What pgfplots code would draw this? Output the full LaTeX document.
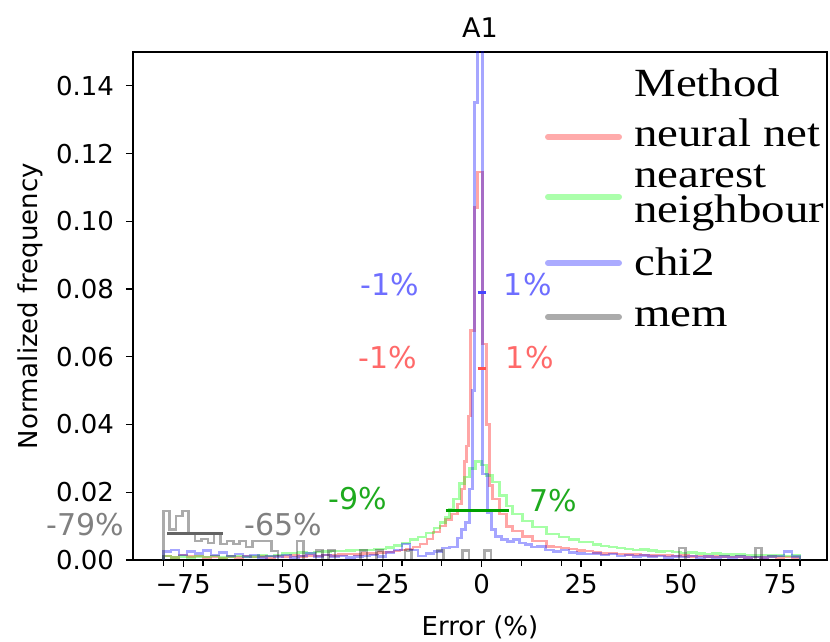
\documentclass[border=0pt]{standalone}
\usepackage{pgfplots}
\pgfplotsset{compat=1.18}
\usepackage{fontspec}
\setmainfont{DejaVu Sans}
\newfontfamily\legfont[FakeStretch=1.17]{Liberation Serif}
\definecolor{annblue}{RGB}{110,110,255}
\definecolor{annred}{RGB}{255,105,105}
\definecolor{anngreen}{RGB}{30,170,30}
\definecolor{anngray}{RGB}{128,128,128}
\definecolor{segblue}{RGB}{70,70,255}
\definecolor{segred}{RGB}{255,80,80}
\definecolor{seggreen}{RGB}{0,160,0}
\definecolor{seggray}{RGB}{100,100,100}
\begin{document}
\begin{tikzpicture}
\begin{axis}[
  scale only axis, width=347pt, height=254pt,
  xmin=-87.6, xmax=86.8, ymin=0, ymax=0.15,
  clip mode=individual,
  axis line style={line width=0.6pt},
  tick align=outside, xtick pos=bottom, ytick pos=left,
  major tick length=3.5pt, tick style={black, line width=0.6pt},
  xtick={-75,-50,-25,0,25,50,75},
  xticklabels={−75,−50,−25,0,25,50,75},
  extra x ticks={-80,-70,-60,-40,-30,-20,-10,10,20,30,40,60,70,80},
  extra x tick labels={},
  extra x tick style={major tick length=3pt},
  ytick={0,0.02,0.04,0.06,0.08,0.10,0.12,0.14},
  yticklabels={0.00,0.02,0.04,0.06,0.08,0.10,0.12,0.14},
  ticklabel style={font=\fontsize{13}{15}\selectfont},
  yticklabel style={xshift=-2.5pt},
  /pgf/number format/assume math mode=true,
  title={A1},
  title style={at={(axis description cs:0.5,1.025)}, anchor=center, font=\fontsize{13.5}{15}\selectfont},
  xlabel={Error (\%)},
  xlabel style={at={(axis description cs:0.5,-0.132)}, anchor=center, font=\fontsize{13}{15}\selectfont},
  ylabel={Normalized frequency},
  ylabel style={at={(axis description cs:-0.148,0.5)}, anchor=center, font=\fontsize{13}{15}\selectfont},
]
% neural net
\addplot[const plot, red, draw opacity=0.35, line width=1.3pt] coordinates {
(-80,0) (-80,0.0012) (-78,0.0008) (-76,0.0015) (-74,0.0010) (-72,0.0012) (-70,0.0008)
(-68,0.0010) (-66,0.0006) (-64,0.0010) (-62,0.0008) (-60,0.0012) (-58,0.0009) (-56,0.0011)
(-54,0.0008) (-52,0.0012) (-50,0.0010) (-48,0.0013) (-46,0.0011) (-44,0.0014) (-42,0.0012)
(-40,0.0015) (-38,0.0013) (-36,0.0016) (-34,0.0018) (-32,0.0017) (-30,0.0020) (-28,0.0019)
(-26,0.0022) (-24,0.0024) (-22,0.0026) (-20.5,0.0030) (-19,0.0033) (-17.25,0.0038)
(-15.5,0.0047) (-13.75,0.0062) (-12.25,0.0083) (-10.5,0.0100) (-9,0.0120) (-7.5,0.0136)
(-6,0.0165) (-5,0.0210) (-4.25,0.0290) (-3.75,0.0337) (-3.25,0.0425) (-2.75,0.0677)
(-1.75,0.1040) (-1,0.1146) (0.25,0.0638) (1.25,0.0400) (2,0.0220) (2.75,0.0180)
(4.5,0.0136) (6.25,0.0098) (7.75,0.0086) (10.25,0.0070) (12.75,0.0056) (16.25,0.0040)
(18,0.0038) (20,0.0035) (22,0.0032) (24,0.0028) (26,0.0026) (28,0.0022) (30,0.0020)
(32,0.0021) (34,0.0018) (36,0.0017) (38,0.0016) (40,0.0015) (42,0.0014) (44,0.0015)
(46,0.0013) (48,0.0012) (50,0.0013) (52,0.0011) (54,0.0012) (56,0.0010) (58,0.0011)
(60,0.0010) (62,0.0009) (64,0.0010) (66,0.0008) (68,0.0009) (70,0.0008) (72,0.0010)
(74,0.0007) (76,0.0009) (78,0.0008) (80,0)
};
% nearest neighbour
\addplot[const plot, green, draw opacity=0.35, line width=1.3pt] coordinates {
(-80,0) (-80,0.0012) (-78,0.0008) (-76,0.0010) (-74,0.0007) (-72,0.0011) (-70,0.0009)
(-68,0.0012) (-66,0.0008) (-64,0.0010) (-62,0.0012) (-60,0.0009) (-58,0.0011) (-56,0.0013)
(-54,0.0012) (-52,0.0015) (-50,0.0020) (-48,0.0021) (-46,0.0022) (-44,0.0021) (-42,0.0024)
(-40,0.0025) (-38,0.0026) (-36,0.0027) (-34,0.0028) (-32,0.0029) (-30,0.0030) (-27,0.0033)
(-24,0.0036) (-22,0.0042) (-20,0.0050) (-18,0.0060) (-16,0.0068) (-14,0.0080) (-12,0.0095)
(-10.5,0.0110) (-9,0.0125) (-8,0.0150) (-7,0.0180) (-5.5,0.0225) (-4.25,0.0245) (-3,0.0270)
(-1.5,0.0290) (0,0.0280) (1.25,0.0250) (2.75,0.0230) (4.5,0.0190) (6.25,0.0160) (7.75,0.0136)
(10.25,0.0115) (12.75,0.0097) (16.25,0.0077) (19.5,0.0068) (22,0.0060) (24.5,0.0053)
(28,0.0045) (30,0.0041) (32,0.0038) (34,0.0035) (36,0.0033) (38,0.0030) (40,0.0031)
(42,0.0028) (44,0.0025) (46,0.0026) (48,0.0023) (50,0.0021) (52,0.0022) (54,0.0020)
(56,0.0018) (58,0.0019) (60,0.0017) (62,0.0016) (64,0.0017) (66,0.0015) (68,0.0014)
(70,0.0015) (72,0.0013) (74,0.0014) (76,0.0012) (78,0.0013) (80,0)
};
% chi2
\addplot[const plot, blue, draw opacity=0.35, line width=1.3pt] coordinates {
(-80,0) (-80,0.0025) (-78,0.0030) (-76,0.0015) (-74,0.0025) (-72,0.0020) (-70,0.0028)
(-68,0.0015) (-66,0.0022) (-64,0.0012) (-62,0.0018) (-60,0.0010) (-58,0.0015) (-56,0.0008)
(-54,0.0012) (-52,0.0010) (-50,0.0015) (-48,0.0008) (-46,0.0012) (-44,0.0020) (-42,0.0010)
(-40,0.0015) (-38,0.0010) (-36,0.0012) (-34,0.0008) (-32,0.0010) (-30,0.0012) (-28,0.0015)
(-26,0.0010) (-24,0.0022) (-22,0.0030) (-20,0.0047) (-18,0.0030) (-16,0.0012) (-14,0.0020)
(-12,0.0025) (-10,0.0035) (-8,0.0038) (-6,0.0065) (-5,0.0090) (-4,0.0110) (-3,0.0210)
(-2.25,0.0500) (-1.75,0.1350) (-1,0.1600) (0.25,0.0254) (1.5,0.0140) (2.5,0.0090)
(3.5,0.0070) (5,0.0060) (6.5,0.0055) (8,0.0060) (9.5,0.0050) (11,0.0045) (12.5,0.0038)
(14,0.0040) (16,0.0030) (18,0.0025) (20,0.0030) (22,0.0022) (24,0.0020) (26,0.0018)
(28,0.0020) (30,0.0015) (32,0.0018) (34,0.0012) (36,0.0015) (38,0.0010) (40,0.0013)
(42,0.0010) (44,0.0012) (46,0.0008) (48,0.0011) (50,0.0009) (52,0.0012) (54,0.0008)
(56,0.0010) (58,0.0007) (60,0.0010) (62,0.0008) (64,0.0011) (66,0.0007) (68,0.0009)
(70,0.0008) (72,0.0010) (74,0.0012) (76,0.0025) (78,0.0010) (80,0)
};
% mem
\addplot[const plot, black, draw opacity=0.33, line width=1.3pt] coordinates {
(-80,0) (-80,0.0145) (-78.4,0.0090) (-76.8,0.0130) (-75.2,0.0145) (-73.6,0.0077)
(-72,0.0056) (-70.4,0.0062) (-68.8,0.0050) (-67.2,0.0077) (-65.6,0.0047) (-64,0.0056)
(-62.4,0.0047) (-60.8,0.0056) (-59.2,0.0038) (-57.6,0.0056) (-56,0.0056) (-54.4,0.0056)
(-52.8,0.0027) (-51.2,0) (-46.4,0.0056) (-44.8,0) (-41.6,0.0028) (-40,0) (-38.4,0.0028)
(-36.8,0) (-30.4,0.0028) (-28.8,0) (-26.4,0.0028) (-24.8,0) (-19.2,0.0028) (-17.6,0)
(-11.2,0.0028) (-9.6,0) (-4.8,0.0028) (-3.2,0) (0.8,0.0028) (2.4,0) (49.6,0.0035)
(51.2,0) (68.8,0.0035) (70.4,0) (80,0)
};
% percentile segments
\addplot[seggray, line width=1.4pt] coordinates {(-79,0.0078) (-65,0.0078)};
\addplot[seggreen, line width=1.4pt] coordinates {(-9,0.0145) (7,0.0145)};
\addplot[segred, line width=1.4pt] coordinates {(-1,0.0565) (1,0.0565)};
\addplot[segblue, line width=1.4pt] coordinates {(-1,0.079) (1,0.079)};
% annotations
\node[annblue, font=\fontsize{15}{17}\selectfont] at (axis cs:-23.0,0.0812) {-1\%};
\node[annblue, font=\fontsize{15}{17}\selectfont] at (axis cs:11.6,0.0812) {1\%};
\node[annred, font=\fontsize{15}{17}\selectfont] at (axis cs:-23.5,0.0599) {-1\%};
\node[annred, font=\fontsize{15}{17}\selectfont] at (axis cs:12.1,0.0599) {1\%};
\node[anngreen, font=\fontsize{15}{17}\selectfont] at (axis cs:-31.1,0.0180) {-9\%};
\node[anngreen, font=\fontsize{15}{17}\selectfont] at (axis cs:17.9,0.0174) {7\%};
\node[anngray, font=\fontsize{15}{17}\selectfont] at (axis cs:-99.6,0.0106) {-79\%};
\node[anngray, font=\fontsize{15}{17}\selectfont] at (axis cs:-49.9,0.0106) {-65\%};
% legend (title, swatches, labels)
\node[anchor=base west, inner sep=0pt, font=\legfont\fontsize{20}{24}\selectfont] at (axis description cs:0.7219,0.9114) {Method};
\draw[red!33, line width=3pt, line cap=round] (axis description cs:0.598,0.8327) -- (axis description cs:0.7003,0.8327);
\node[anchor=base west, inner sep=0pt, font=\legfont\fontsize{20}{24}\selectfont] at (axis description cs:0.7219,0.8130) {neural net};
\draw[green!33, line width=3pt, line cap=round] (axis description cs:0.598,0.7146) -- (axis description cs:0.7003,0.7146);
\node[anchor=base west, inner sep=0pt, font=\legfont\fontsize{20}{24}\selectfont] at (axis description cs:0.7219,0.7323) {nearest};
\node[anchor=base west, inner sep=0pt, font=\legfont\fontsize{20}{24}\selectfont] at (axis description cs:0.7219,0.6634) {neighbour};
\draw[blue!33, line width=3pt, line cap=round] (axis description cs:0.598,0.5846) -- (axis description cs:0.7003,0.5846);
\node[anchor=base west, inner sep=0pt, font=\legfont\fontsize{20}{24}\selectfont] at (axis description cs:0.7219,0.5610) {chi2};
\draw[black!33, line width=3pt, line cap=round] (axis description cs:0.598,0.4783) -- (axis description cs:0.7003,0.4783);
\node[anchor=base west, inner sep=0pt, font=\legfont\fontsize{20}{24}\selectfont] at (axis description cs:0.7219,0.4587) {mem};
\end{axis}
\pgfresetboundingbox
\path ([shift={(-66.5pt,-41pt)}]current axis.south west) rectangle ([shift={(1.5pt,26pt)}]current axis.north east);
\end{tikzpicture}
\end{document}
